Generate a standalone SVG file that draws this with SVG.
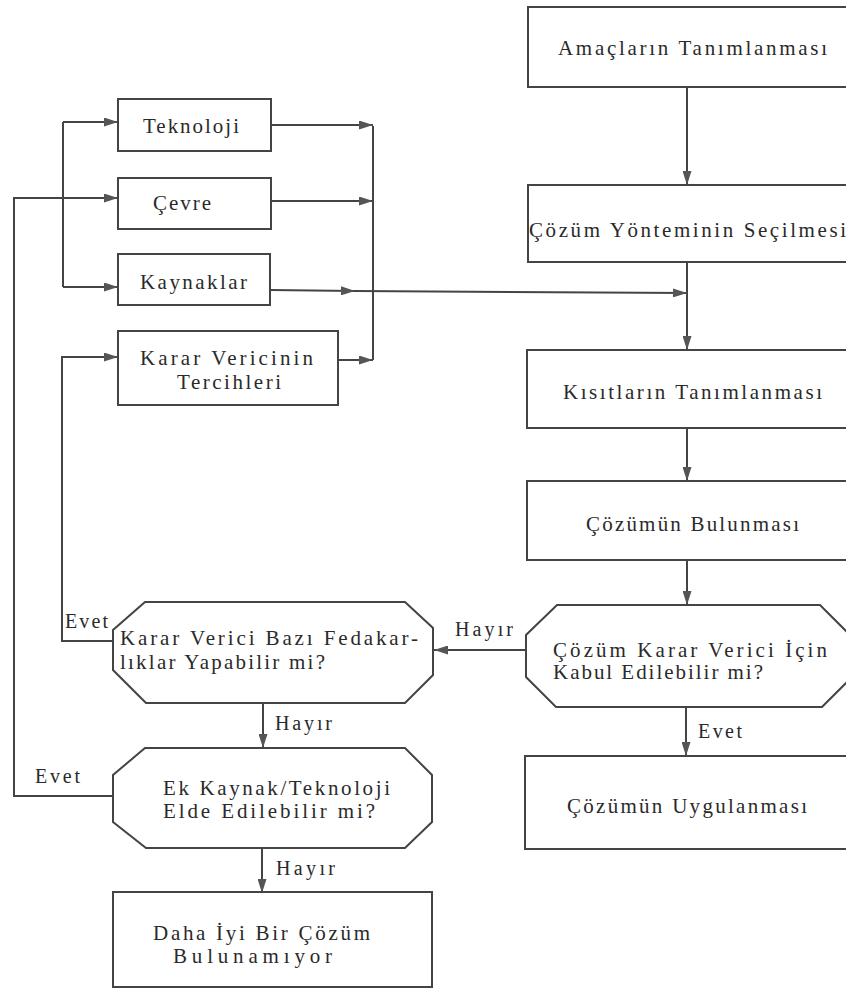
<svg xmlns="http://www.w3.org/2000/svg" width="846" height="991" viewBox="0 0 846 991">
<style>
.b{fill:#fff;stroke:#444;stroke-width:2}
.c{fill:none;stroke:#444;stroke-width:2}
text{font-family:"Liberation Serif","DejaVu Serif",serif;font-size:21px;fill:#2a2a2a}
.l{font-size:20px}
</style>
<defs>
<marker id="a" markerUnits="userSpaceOnUse" markerWidth="14" markerHeight="9" refX="14" refY="4.5" orient="auto">
<path d="M0,0 L14,4.5 L0,9 z" fill="#555"/>
</marker>
</defs>
<rect width="846" height="991" fill="#fff"/>
<g id="connectors">
<path class="c" d="M687,87 V185" marker-end="url(#a)"/>
<path class="c" d="M687,262 V350" marker-end="url(#a)"/>
<path class="c" d="M270,290 L355,291" marker-end="url(#a)"/>
<path class="c" d="M355,291 L687,293" marker-end="url(#a)"/>
<path class="c" d="M687,428 V481" marker-end="url(#a)"/>
<path class="c" d="M687,560 V605" marker-end="url(#a)"/>
<path class="c" d="M686,707 V756" marker-end="url(#a)"/>
<path class="c" d="M526,650 H434" marker-end="url(#a)"/>
<path class="c" d="M263,703 V748" marker-end="url(#a)"/>
<path class="c" d="M262,848 V893" marker-end="url(#a)"/>
<path class="c" d="M63,122 V287"/>
<path class="c" d="M63,122 H118" marker-end="url(#a)"/>
<path class="c" d="M63,287 H118" marker-end="url(#a)"/>
<path class="c" d="M373,126 V360"/>
<path class="c" d="M271,125 H373" marker-end="url(#a)"/>
<path class="c" d="M271,201 H373" marker-end="url(#a)"/>
<path class="c" d="M338,360 H373" marker-end="url(#a)"/>
<path class="c" d="M113,641 H62 V357 H118" marker-end="url(#a)"/>
<path class="c" d="M113,796 H14 V198 H118" marker-end="url(#a)"/>
</g>
<g id="n1"><rect class="b" x="528" y="7" width="330" height="80"/><text x="558" y="55" textLength="269" lengthAdjust="spacing">Amaçların Tanımlanması</text></g>
<g id="n2"><rect class="b" x="528" y="185" width="330" height="77"/><text x="529" y="237" textLength="317" lengthAdjust="spacing">Çözüm Yönteminin Seçilmesi</text></g>
<g id="n3"><rect class="b" x="527" y="350" width="330" height="78"/><text x="563" y="399" textLength="259" lengthAdjust="spacing">Kısıtların Tanımlanması</text></g>
<g id="n4"><rect class="b" x="527" y="481" width="330" height="79"/><text x="586" y="531" textLength="213" lengthAdjust="spacing">Çözümün Bulunması</text></g>
<g id="n5"><polygon class="b" points="557,605 820,605 852,637 852,677 822,707 556,707 526,677 526,635"/>
<text x="553" y="657" textLength="274" lengthAdjust="spacing">Çözüm Karar Verici İçin</text>
<text x="553" y="679" textLength="210" lengthAdjust="spacing">Kabul Edilebilir mi?</text></g>
<g id="n6"><rect class="b" x="525" y="756" width="330" height="93"/><text x="567" y="813" textLength="240" lengthAdjust="spacing">Çözümün Uygulanması</text></g>
<g id="n7"><rect class="b" x="118" y="99" width="153" height="52"/><text x="143" y="133" textLength="96" lengthAdjust="spacing">Teknoloji</text></g>
<g id="n8"><rect class="b" x="118" y="178" width="153" height="51"/><text x="153" y="210" textLength="58" lengthAdjust="spacing">Çevre</text></g>
<g id="n9"><rect class="b" x="118" y="254" width="152" height="51"/><text x="140" y="289" textLength="107" lengthAdjust="spacing">Kaynaklar</text></g>
<g id="n10"><rect class="b" x="118" y="331" width="220" height="74"/><text x="140" y="365" textLength="173" lengthAdjust="spacing">Karar Vericinin</text><text x="177" y="389" textLength="104" lengthAdjust="spacing">Tercihleri</text></g>
<g id="n11"><polygon class="b" points="145,602 405,602 433,628 433,675 405,703 146,703 113,670 113,630"/>
<text x="120" y="645" textLength="298" lengthAdjust="spacing">Karar Verici Bazı Fedakar-</text>
<text x="120" y="669" textLength="205" lengthAdjust="spacing">lıklar Yapabilir mi?</text></g>
<g id="n12"><polygon class="b" points="145,748 405,748 432,775 432,822 405,848 146,848 113,822 113,775"/>
<text x="163" y="795" textLength="227" lengthAdjust="spacing">Ek Kaynak/Teknoloji</text>
<text x="163" y="818" textLength="212" lengthAdjust="spacing">Elde Edilebilir mi?</text></g>
<g id="n13"><rect class="b" x="113" y="892" width="319" height="95"/><text x="153" y="940" textLength="217" lengthAdjust="spacing">Daha İyi Bir Çözüm</text><text x="173" y="963" textLength="159" lengthAdjust="spacing">Bulunamıyor</text></g>
<g id="labels">
<text class="l" x="455" y="636" textLength="58" lengthAdjust="spacing">Hayır</text>
<text class="l" x="698" y="738" textLength="44" lengthAdjust="spacing">Evet</text>
<text class="l" x="65" y="628" textLength="43" lengthAdjust="spacing">Evet</text>
<text class="l" x="275" y="730" textLength="57" lengthAdjust="spacing">Hayır</text>
<text class="l" x="35" y="783" textLength="45" lengthAdjust="spacing">Evet</text>
<text class="l" x="276" y="875" textLength="59" lengthAdjust="spacing">Hayır</text>
</g>
</svg>
